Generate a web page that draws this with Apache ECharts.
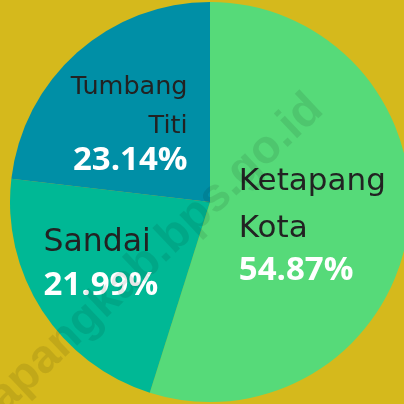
<!DOCTYPE html>
<html>
<head>
<meta charset="utf-8">
<title>Ketapang pie</title>
<script src="https://cdn.jsdelivr.net/npm/echarts@6/dist/echarts.min.js"></script>
<style>
	html, body { margin: 0; padding: 0; background: #d5b91c; }
	#chartWrap { width: 404px; height: 404px; }
</style>
</head>
<body>
<div id="chartWrap"></div>
<script>
// 数据
var categories = ['Ketapang Kota', 'Sandai', 'Tumbang Titi'];
var shares = [54.87, 21.99, 23.14];
var sliceColors = ['#56da79', '#00b895', '#008fa6'];
var watermark = 'ketapangkab.bps.go.id';

// 每个标签的样式名和偏移
var richKeys = [['kn', 'kp'], ['sn', 'sp'], ['tn', 'tp']];
var labelAlign = ['left', 'left', 'right'];
var labelShift = [[-73, 6], [-80, 5], [46, -3]];

var initChart = function(){
	var myChart = echarts.init(document.getElementById('chartWrap'));

	var pieData = [];
	for (var i = 0; i < categories.length; i++) {
		pieData.push({
			name: categories[i],
			value: shares[i],
			itemStyle: { color: sliceColors[i] }
		});
	}

	var nameStyle = function(size, lh, align){
		return { fontFamily: 'DejaVu Sans', fontSize: size, lineHeight: lh, color: '#222222', align: align };
	};
	var pctStyle = function(lh, align){
		return { fontFamily: 'Open Sans', fontWeight: 'bold', fontSize: 33, lineHeight: lh, color: '#ffffff', align: align };
	};

	var option = {
		backgroundColor: '#d5b91c',
		animation: false,
		graphic: [{
			type: 'text',
			x: 131,
			y: 277,
			rotation: 0.756,
			z: 100,
			style: {
				text: watermark,
				font: 'bold 47px "Liberation Sans"',
				fill: 'rgba(0,0,0,0.09)',
				align: 'center',
				verticalAlign: 'middle'
			}
		}],
		series: [{
			type: 'pie',
			center: [210, 202],
			radius: 200,
			startAngle: 90,
			clockwise: true,
			data: pieData,
			label: {
				show: true,
				position: 'inside',
				formatter: function(p){
					var k = richKeys[p.dataIndex];
					var lines = p.name.split(' ').map(function(s){ return '{' + k[0] + '|' + s + '}'; });
					lines.push('{' + k[1] + '|' + p.value.toFixed(2) + '%}');
					return lines.join('\n');
				},
				rich: {
					kn: nameStyle(31, 47, 'left'),
					kp: pctStyle(37, 'left'),
					sn: nameStyle(31.5, 45, 'left'),
					sp: pctStyle(40, 'left'),
					tn: nameStyle(25.5, 39, 'right'),
					tp: pctStyle(30, 'right')
				}
			},
			labelLine: { show: false },
			labelLayout: function(params){
				var i = params.dataIndex;
				return {
					align: labelAlign[i],
					verticalAlign: 'middle',
					dx: labelShift[i][0],
					dy: labelShift[i][1]
				};
			}
		}]
	};

	myChart.setOption(option);
};

initChart();
</script>
</body>
</html>
